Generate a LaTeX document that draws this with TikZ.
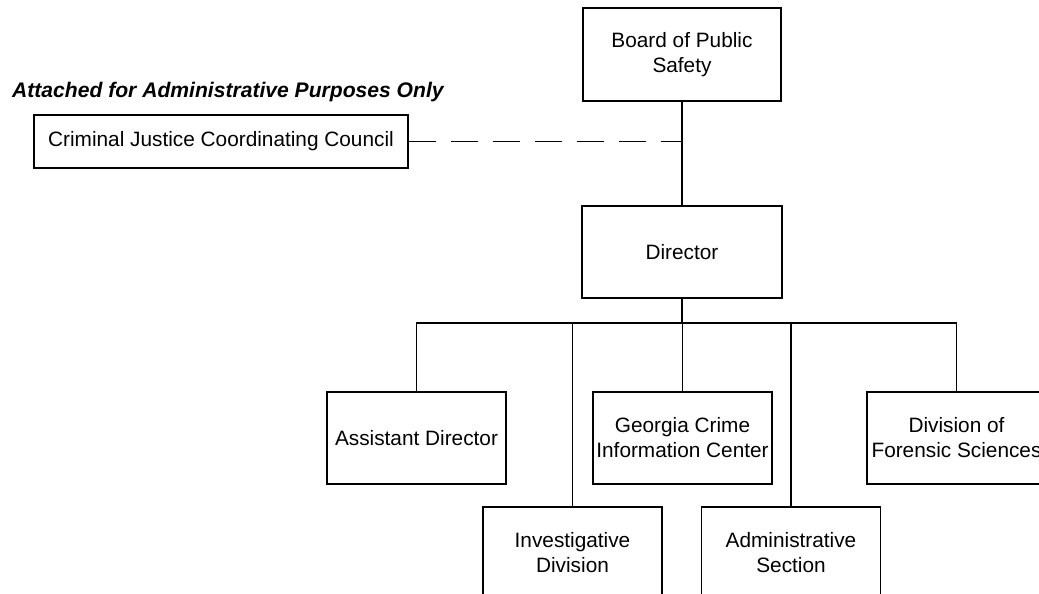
\documentclass[tikz,border=0pt]{standalone}
\usepackage{fontspec}
\setmainfont{Liberation Sans}
\usetikzlibrary{calc}

\begin{document}
\begin{tikzpicture}[
x=1pt,y=-1pt,
MyBoxes/.style={draw=black,line width=1.6pt,fill=white,align=center,inner sep=0pt,minimum width=179pt,minimum height=92pt,font=\fontsize{20.8}{25}\selectfont},
Links/.style={draw=black,line width=1.6pt},
Dashes/.style={draw=black,line width=1.6pt,dash pattern=on 27.5pt off 14.5pt}
]
\useasboundingbox (0,0) rectangle (1039,594);
\clip (0,0) rectangle (1039,594);

% top of the chart
\node[MyBoxes,minimum width=198pt,minimum height=93pt] (Board) at (682,54.5) {Board of Public\\Safety};
\node[MyBoxes,minimum width=200pt] (Dir) at (682,252) {Director};
\node[MyBoxes,minimum width=374pt,minimum height=53pt] (CJCC) at (221,141.5) {Criminal Justice Coordinating Council};
\node[anchor=west,inner sep=0pt,font=\fontsize{21.1}{25}\selectfont\bfseries\itshape] (Attached) at (12,92) {Attached for Administrative Purposes Only};

% first row
\node[MyBoxes] (Assist) at (416.5,438) {Assistant Director};
\node[MyBoxes] (GCIC) at (682.5,438) {Georgia Crime\\Information Center};
\node[MyBoxes] (Forensic) at (956.5,438) {Division of\\Forensic Sciences};

% second row, cut by the page
\node[MyBoxes] (Invest) at (572.5,553) {Investigative\\Division};
\node[MyBoxes] (Admin) at (791,553) {Administrative\\Section};

% links
\draw[Links] (Board) -- (Dir);
\coordinate (Joint) at (Board.south |- CJCC.east);
\draw[Dashes] (CJCC.east) -- (Joint);

\coordinate (Bus) at ($(Dir.south)+(0,24)$);
\draw[Links,line width=2.6pt] (Dir.south) -- (Bus);
\draw[Links] (Assist.north) |- (Forensic.north |- Bus) -- (Forensic.north);
\foreach \n in {Invest,GCIC,Admin}
  \draw[Links] (Bus -| \n.north) -- (\n.north);

\end{tikzpicture}
\end{document}
